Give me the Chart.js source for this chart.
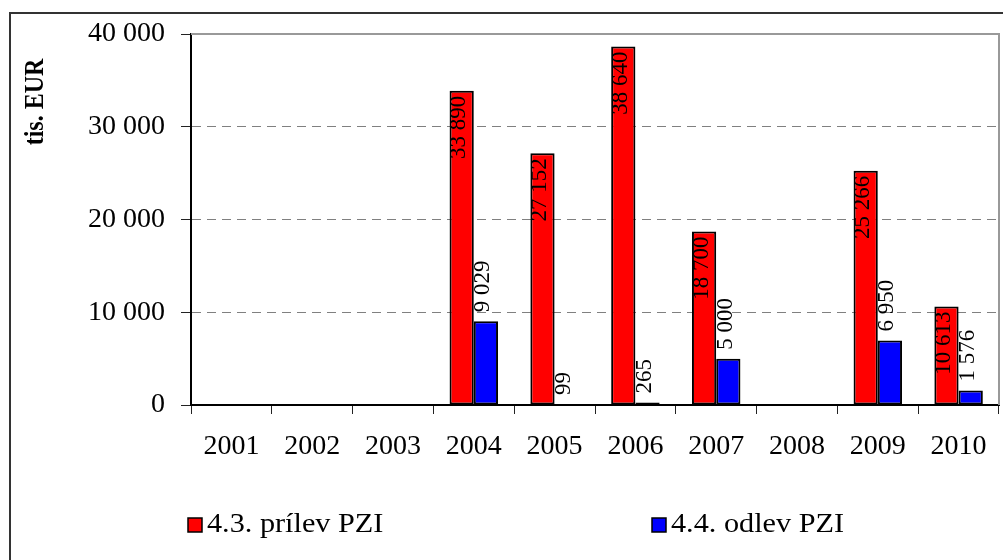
<!DOCTYPE html>
<html>
<head>
<meta charset="utf-8">
<script src="https://cdn.jsdelivr.net/npm/chart.js@4"></script>
<style>
  body { margin: 0; background: #fff; }
  canvas { display: block; }
</style>
</head>
<body>
<canvas id="myChart" width="1003" height="560"></canvas>
<script>
const years = ['2001', '2002', '2003', '2004', '2005', '2006', '2007', '2008', '2009', '2010'];
const prilev = [null, null, null, 33890, 27152, 38640, 18700, null, 25266, 10613];
const odlev = [null, null, null, 9029, 99, 265, 5000, null, 6950, 1576];
const seriesNames = ['4.3. prílev PZI', '4.4. odlev PZI'];
const yTicks = [0, 10000, 20000, 30000, 40000];

const SERIF = '"Liberation Serif", "Times New Roman", serif';

function fmt(v) {
  return String(v).replace(/\B(?=(\d{3})+(?!\d))/g, ' ');
}

// labels on bars, rotated like in excel
const barLabels = {
  id: 'barLabels',
  afterDatasetsDraw(chart) {
    const ctx = chart.ctx;
    ctx.save();
    ctx.font = '23px ' + SERIF;
    ctx.fillStyle = '#000';
    ctx.textBaseline = 'alphabetic';
    chart.data.datasets.forEach((ds, di) => {
      const meta = chart.getDatasetMeta(di);
      meta.data.forEach((bar, i) => {
        const v = ds.data[i];
        if (v == null) return;
        ctx.save();
        if (di === 0) {
          ctx.translate(bar.x + 3.5, bar.y + 5);
          ctx.rotate(-Math.PI / 2);
          ctx.textAlign = 'right';
        } else {
          ctx.translate(bar.x + 3.5, bar.y - 9);
          ctx.rotate(-Math.PI / 2);
          ctx.textAlign = 'left';
        }
        ctx.fillText(fmt(v), 0, 0);
        ctx.restore();
      });
    });
    ctx.restore();
  }
};

// frame, plot border, axis title, legend
const decor = {
  id: 'decor',
  afterDraw(chart) {
    const ctx = chart.ctx;
    const a = chart.chartArea;
    ctx.save();
    ctx.strokeStyle = '#999';
    ctx.lineWidth = 2;
    ctx.beginPath();
    ctx.moveTo(a.left, a.top);
    ctx.lineTo(a.right, a.top);
    ctx.lineTo(a.right, a.bottom);
    ctx.stroke();

    ctx.strokeStyle = '#333';
    ctx.lineWidth = 2;
    ctx.strokeRect(10, 13, 1100, 700);

    // y title, a bit wider like the original
    ctx.save();
    ctx.translate(36, 102);
    ctx.rotate(-Math.PI / 2);
    ctx.scale(1, 1.15);
    ctx.font = 'bold 24px ' + SERIF;
    ctx.fillStyle = '#000';
    ctx.textAlign = 'center';
    ctx.textBaseline = 'middle';
    ctx.fillText('tis. EUR', 0, 0);
    ctx.restore();

    const legendX = [188, 652];
    ctx.font = '27px ' + SERIF;
    ctx.textAlign = 'left';
    ctx.textBaseline = 'middle';
    chart.data.datasets.forEach((ds, di) => {
      const x = legendX[di];
      ctx.fillStyle = ds.backgroundColor;
      ctx.fillRect(x, 518, 14, 14);
      ctx.strokeStyle = '#000';
      ctx.lineWidth = 1.5;
      ctx.strokeRect(x, 518, 14, 14);
      ctx.save();
      ctx.translate(x + 19, 525);
      ctx.scale(1.12, 1);
      ctx.fillStyle = '#000';
      ctx.fillText(ds.label, 0, 0);
      ctx.restore();
    });
    ctx.restore();
  }
};

const config = {
  type: 'bar',
  data: {
    labels: years,
    datasets: [{
      label: seriesNames[0],
      data: prilev,
      backgroundColor: '#ff0000',
      borderColor: '#000',
      borderWidth: 2,
      borderSkipped: false
    }, {
      label: seriesNames[1],
      data: odlev,
      backgroundColor: '#0000ff',
      borderColor: '#000',
      borderWidth: 2,
      borderSkipped: false
    }]
  },
  options: {
    responsive: false,
    animation: false,
    categoryPercentage: 0.6,
    barPercentage: 1.0,
    layout: {
      padding: { top: 34, right: 4, bottom: 0, left: 0 }
    },
    plugins: {
      legend: { display: false },
      tooltip: { enabled: false }
    },
    scales: {
      x: {
        grid: {
          drawOnChartArea: false,
          tickLength: 9,
          tickColor: '#222'
        },
        border: { color: '#000', width: 2 },
        ticks: {
          color: '#000',
          padding: 16,
          maxRotation: 0,
          font: { family: SERIF, size: 28 }
        },
        afterFit(scale) { scale.height = 155; }
      },
      y: {
        min: 0,
        max: 40000,
        afterBuildTicks(scale) {
          scale.ticks = yTicks.map(v => ({ value: v }));
        },
        grid: {
          color: '#808080',
          tickColor: '#222',
          tickLength: 10,
          tickBorderDash: []
        },
        border: { color: '#000', width: 2, dash: [9, 6] },
        ticks: {
          color: '#000',
          padding: 16,
          font: { family: SERIF, size: 28 },
          callback: v => fmt(v)
        },
        afterFit(scale) { scale.width = 191; }
      }
    }
  },
  plugins: [barLabels, decor]
};

var myChart = new Chart(
  document.getElementById('myChart'),
  config
);
</script>
</body>
</html>
